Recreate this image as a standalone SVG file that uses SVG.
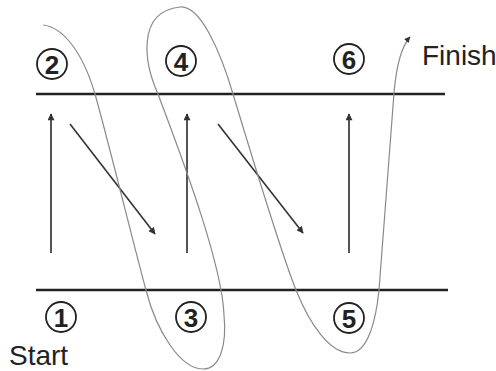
<svg xmlns="http://www.w3.org/2000/svg" width="496" height="371" viewBox="0 0 496 371">
<defs>
<marker id="ah" viewBox="0 0 10 10" refX="9" refY="5" markerWidth="8" markerHeight="7" markerUnits="userSpaceOnUse" orient="auto"><path d="M0,0 L10,5 L0,10 Z" fill="#333"/></marker>
<marker id="ahs" viewBox="0 0 10 10" refX="9" refY="5" markerWidth="8" markerHeight="6" markerUnits="userSpaceOnUse" orient="auto"><path d="M0,0 L10,5 L0,10 Z" fill="#333"/></marker>
</defs>
<style>
.rail{stroke:#222;stroke-width:2.5;fill:none}
.up{stroke:#555;stroke-width:2;fill:none}
.diag{stroke:#333;stroke-width:1.6;fill:none}
.curve{stroke:#8a8a8a;stroke-width:1.2;fill:none}
.ring{fill:#fff;stroke:#222;stroke-width:1.8}
.num{font-family:"Liberation Sans",Arial,sans-serif;font-weight:bold;font-size:26px;fill:#222;text-anchor:middle}
.lbl{font-family:"Liberation Sans",Arial,sans-serif;font-size:28px;fill:#222}
</style>
<rect width="496" height="371" fill="#fff"/>
<g id="rails">
<line class="rail" x1="36" y1="94" x2="445" y2="94"/>
<line class="rail" x1="36" y1="290" x2="448" y2="290"/>
</g>
<g id="connectors">
<line class="up" x1="51" y1="253" x2="51" y2="114" marker-end="url(#ah)"/>
<line class="up" x1="187" y1="253" x2="187" y2="114" marker-end="url(#ah)"/>
<line class="up" x1="349" y1="253" x2="349" y2="114" marker-end="url(#ah)"/>
<line class="diag" x1="70" y1="124" x2="155" y2="234" marker-end="url(#ah)"/>
<line class="diag" x1="218" y1="124" x2="303" y2="233" marker-end="url(#ah)"/>
<path class="curve" marker-end="url(#ahs)" d="M43,25 C62,27 82,50 95,94 C108,140 135,250 146,290 C156,330 180,369 203,369 C220,369 227,345 224,315 C222,260 175,140 158,94 C145,65 135,12 180,7 C200,5 220,50 233,94 C250,150 280,250 296,290 C310,325 330,353 350,353 C368,353 376,320 379,290 L394,93 C396,70 400,48 410,37"/>
</g>
<g id="n2"><circle class="ring" cx="52" cy="64" r="15"/><text class="num" x="52" y="73.5">2</text></g>
<g id="n4"><circle class="ring" cx="181" cy="61" r="15"/><text class="num" x="181" y="70.5">4</text></g>
<g id="n6"><circle class="ring" cx="349" cy="59" r="15"/><text class="num" x="349" y="68.5">6</text></g>
<g id="n1"><circle class="ring" cx="61" cy="317" r="15"/><text class="num" x="61" y="326.5">1</text></g>
<g id="n3"><circle class="ring" cx="191" cy="317" r="15"/><text class="num" x="191" y="326.5">3</text></g>
<g id="n5"><circle class="ring" cx="349" cy="318" r="15"/><text class="num" x="349" y="327.5">5</text></g>
<g id="finish"><text class="lbl" x="422" y="65">Finish</text></g>
<g id="start"><text class="lbl" x="9" y="365">Start</text></g>
</svg>
